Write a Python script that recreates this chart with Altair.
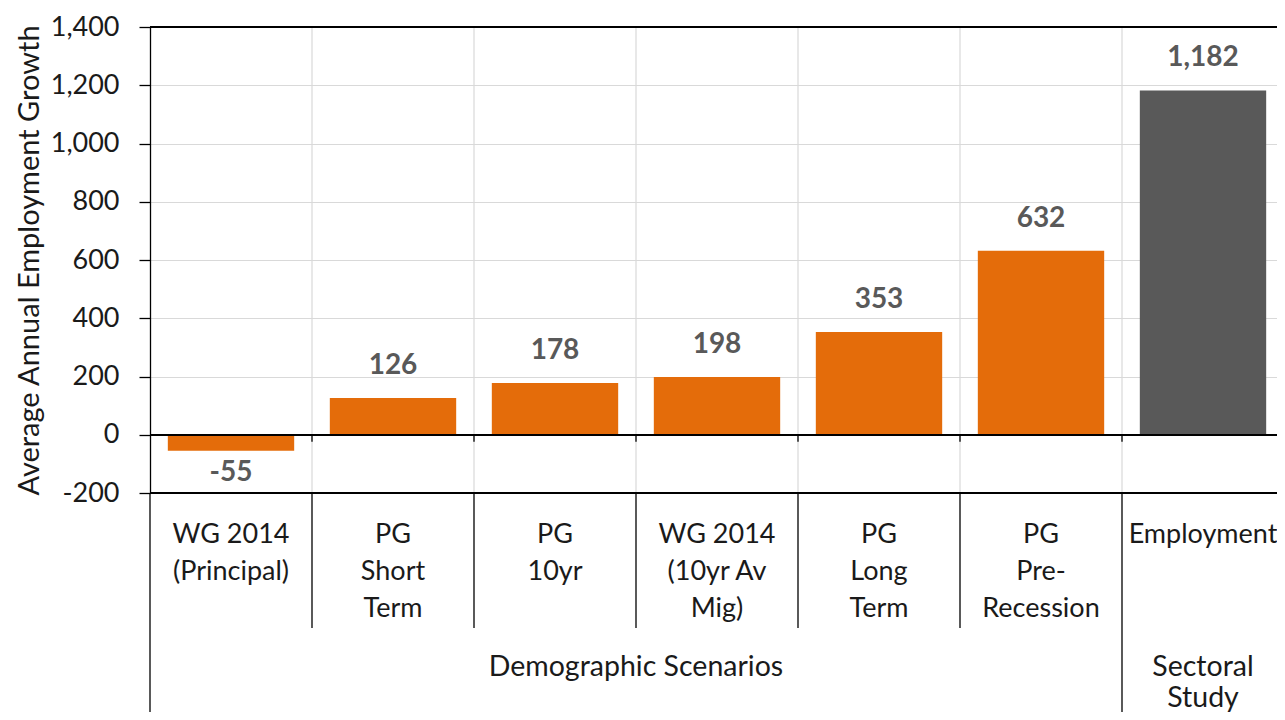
import altair as alt
import pandas as pd

# ---- data ----
categories = ["WG 2014|(Principal)", "PG|Short|Term", "PG|10yr", "WG 2014|(10yr Av|Mig)",
              "PG|Long|Term", "PG|Pre-|Recession", "Employment"]
values = [-55, 126, 178, 198, 353, 632, 1182]
groups = ["Demographic Scenarios"] * 6 + ["Sectoral|Study"]
bar_colors = ["#E46C0A"] * 6 + ["#595959"]
y_ticks = [-200, 0, 200, 400, 600, 800, 1000, 1200, 1400]
y_title = "Average Annual Employment Growth"

df = pd.DataFrame({"cat": categories, "value": values, "group": groups,
                   "color": bar_colors, "idx": list(range(len(categories)))})
df["group_start"] = df["group"] != df["group"].shift(1)
df["is_last"] = df["idx"] == len(df) - 1

FONT = "Lato"
W, H = 1134, 466
FS_NUM = 27
FS_CAT = 27
FS_GRP = 28.5

x_axis = alt.Axis(title=None, labelExpr="split(datum.label, '|')", ticks=False, tickSize=0,
                  domain=False, grid=False, labelFontSize=FS_CAT, labelFont=FONT, labelColor="#1a1a1a",
                  labelPadding=28, labelLineHeight=37, labelAngle=0, labelLimit=0,
                  labelOverlap=False, labelBaseline="top")
x_scale = alt.Scale(paddingInner=0, paddingOuter=0)


def X(bp=None):
    kw = dict(sort=categories, scale=x_scale, axis=x_axis)
    if bp is not None:
        kw["bandPosition"] = bp
    return alt.X("cat:N", **kw)


y_scale = alt.Scale(domain=[-200, 1400], nice=False, zero=False)
y_axis = alt.Axis(values=y_ticks, format=",d", title=y_title, grid=True, gridColor="#d9d9d9",
                  gridWidth=1.2, domainColor="#000", domainWidth=1.3, tickColor="#000", tickSize=11,
                  tickWidth=1.3, labelPadding=20, labelFontSize=FS_NUM, labelFont=FONT,
                  labelColor="#1a1a1a", titleFont=FONT, titleFontSize=29, titleFontWeight="normal",
                  titleColor="#1a1a1a", titlePadding=6)

base = alt.Chart(df)

bars = base.mark_bar(width=alt.RelativeBandSize(0.78)).encode(
    x=X(),
    y=alt.Y("value:Q", scale=y_scale, axis=y_axis),
    color=alt.Color("color:N", scale=None),
)

# light vertical gridlines at category boundaries
grid_v = base.transform_filter("datum.idx > 0").mark_rule(color="#d9d9d9", strokeWidth=1.2).encode(
    x=X(bp=0), y=alt.datum(1400), y2=alt.datum(-200))
grid_right = base.transform_filter("datum.is_last").mark_rule(color="#d9d9d9", strokeWidth=1.2).encode(
    x=X(bp=1), y=alt.datum(1400), y2=alt.datum(-200))

# black horizontal lines: top, zero axis, bottom
hlines = alt.layer(*[
    alt.Chart(df).mark_rule(color="#000", strokeWidth=1.4).encode(y=alt.datum(v))
    for v in (1400, 0, -200)
])

# small ticks on the zero line
zero_ticks = base.transform_filter("datum.idx > 0").mark_rule(color="#000", strokeWidth=1.3).encode(
    x=X(bp=0), y=alt.datum(0), y2=alt.datum(-24))

# separators in the category label area
sep_short = base.transform_filter("!datum.group_start").mark_rule(color="#000", strokeWidth=1.3).encode(
    x=X(bp=0), y=alt.value(H), y2=alt.value(H + 135))
sep_long = base.transform_filter("datum.group_start").mark_rule(color="#000", strokeWidth=1.3).encode(
    x=X(bp=0), y=alt.value(H), y2=alt.value(H + 260))

pos_labels = base.transform_filter("datum.value >= 0").mark_text(
    font=FONT, fontSize=28, fontWeight="bold", color="#595959", baseline="middle", dy=-32
).encode(x=X(), y=alt.Y("value:Q"), text=alt.Text("value:Q", format=",d"))
neg_labels = base.transform_filter("datum.value < 0").mark_text(
    font=FONT, fontSize=28, fontWeight="bold", color="#595959", baseline="middle", dy=22
).encode(x=X(), y=alt.Y("value:Q"), text=alt.Text("value:Q", format=",d"))

inner = alt.layer(grid_v, grid_right, bars, hlines, zero_ticks, sep_short, sep_long,
                  pos_labels, neg_labels)

group_text = base.transform_aggregate(
    lo="min(idx)", hi="max(idx)", groupby=["group"]
).transform_calculate(center="(datum.lo + datum.hi + 1) / 2").mark_text(
    font=FONT, fontSize=FS_GRP, color="#1a1a1a", lineBreak="|", lineHeight=31, baseline="top"
).encode(
    x=alt.X("center:Q", scale=alt.Scale(domain=[0, len(categories)], nice=False, zero=False), axis=None),
    y=alt.value(H + 160),
    text="group:N",
)

chart = alt.layer(inner, group_text).resolve_scale(x="independent").properties(
    width=W, height=H,
    autosize=alt.AutoSizeParams(type="none"),
    padding={"left": 142, "top": 19, "right": -7, "bottom": 219},
).configure_view(stroke=None).configure(
    locale={"number": {"decimal": ".", "thousands": ",", "grouping": [3],
                       "currency": ["$", ""], "minus": "-"}}
)

chart.save("out.html", embed_options={"renderer": "svg", "actions": False})
